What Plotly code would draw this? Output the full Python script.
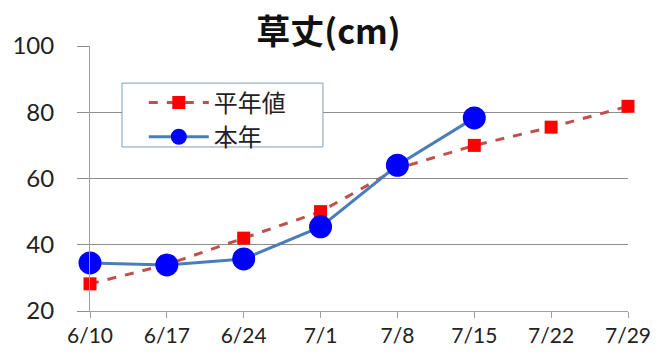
import plotly.graph_objects as go

dates = ["6/10", "6/17", "6/24", "7/1", "7/8", "7/15", "7/22", "7/29"]
normal = [28.2, 34.0, 42.0, 50.0, 63.0, 70.0, 75.5, 81.8]
this_year = [34.5, 33.9, 35.7, 45.4, 64.0, 78.3]
y_ticks = [20, 40, 60, 80, 100]

fig = go.Figure()
fig.add_trace(go.Scatter(
    x=dates, y=normal, name="平年値", mode="lines+markers",
    line=dict(color="#C0504D", width=3, dash="dash"),
    marker=dict(symbol="square", size=13, color="#FF0000"),
    cliponaxis=False,
))
fig.add_trace(go.Scatter(
    x=dates[:len(this_year)], y=this_year, name="本年", mode="lines+markers",
    line=dict(color="#4A7EBB", width=3),
    marker=dict(symbol="circle", size=23, color="#0000FF"),
    cliponaxis=False,
))

# legend frame
fig.add_shape(type="rect", xref="paper", yref="paper",
              x0=0.0595, x1=0.433, y0=0.619, y1=0.860,
              line=dict(color="#7E9CC2", width=1), fillcolor="white", layer="above")

font_main = "Lato, Noto Sans CJK JP, sans-serif"
fig.update_layout(
    width=657, height=358,
    margin=dict(l=90, r=29, t=46, b=47),
    paper_bgcolor="white", plot_bgcolor="white",
    font=dict(family=font_main, size=22, color="#222222"),
    title=dict(text="<b>草丈(cm)</b>", x=0.5, xanchor="center", y=0.91, yanchor="middle",
               font=dict(family="Noto Sans CJK JP, sans-serif", size=34, color="#111111")),
    xaxis=dict(
        type="category", range=[0, 7], showgrid=False, automargin=False,
        showline=True, linecolor="#A0A0A0", linewidth=1,
        ticks="outside", ticklen=6, tickcolor="#A0A0A0",
        tickfont=dict(size=21), ticklabelstandoff=0,
    ),
    yaxis=dict(
        range=[20, 100], tickvals=y_ticks, automargin=False,
        showgrid=True, gridcolor="#8C8C8C", gridwidth=1,
        showline=True, linecolor="#A0A0A0", linewidth=1,
        ticks="outside", ticklen=12, tickcolor="#8C8C8C",
        tickfont=dict(size=24), zeroline=False, ticklabelstandoff=18,
    ),
    legend=dict(
        x=0.10, y=0.87, xanchor="left", yanchor="top",
        bgcolor="rgba(0,0,0,0)", borderwidth=0,
        font=dict(family="Noto Sans CJK JP, sans-serif", size=24),
        itemwidth=60, tracegroupgap=0,
    ),
    showlegend=True,
)

fig.write_html("out.html")
